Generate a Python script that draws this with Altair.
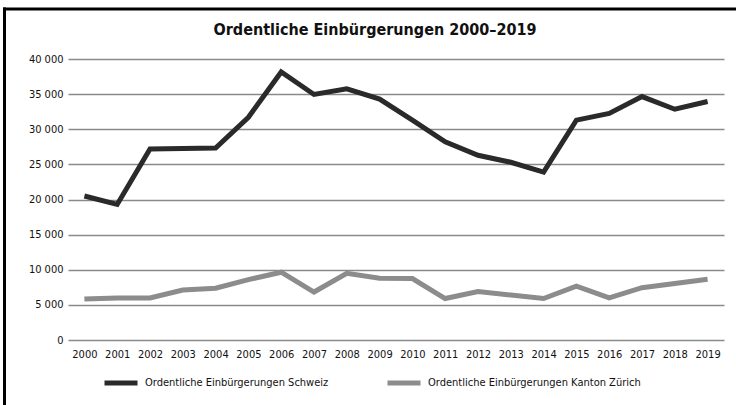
import altair as alt
import pandas as pd

years = [str(y) for y in range(2000, 2020)]
schweiz = [20500, 19300, 27200, 27250, 27330, 31700, 38150, 34950, 35750, 34300,
           31300, 28200, 26300, 25300, 23900, 31300, 32250, 34650, 32850, 33950]
zuerich = [5840, 5980, 5980, 7120, 7380, 8600, 9650, 6830, 9500, 8800,
           8750, 5900, 6900, 6400, 5900, 7650, 6000, 7450, 8050, 8650]
series_names = ["Ordentliche Einbürgerungen Schweiz",
                "Ordentliche Einbürgerungen Kanton Zürich"]
title_text = "Ordentliche Einbürgerungen 2000–2019"
colors = ["#2a2a2a", "#8c8c8c"]
y_ticks = [0, 5000, 10000, 15000, 20000, 25000, 30000, 35000, 40000]

rows = []
for i, yr in enumerate(years):
    rows.append({"Jahr": yr, "Serie": series_names[0], "Wert": schweiz[i]})
    rows.append({"Jahr": yr, "Serie": series_names[1], "Wert": zuerich[i]})
df = pd.DataFrame(rows)
one = pd.DataFrame({"t": [title_text]})

FONT = "Liberation Sans Narrow, DejaVu Sans Condensed, Arial Narrow, sans-serif"

lines = alt.Chart(df).mark_line(strokeWidth=5, strokeJoin="miter", strokeCap="butt").encode(
    x=alt.X("Jahr:O", sort=years, title=None,
            scale=alt.Scale(type="point", padding=0.5),
            axis=alt.Axis(labelAngle=0, domain=False, ticks=False, labelPadding=8,
                          labelFontSize=11, labelColor="#111111", grid=False)),
    y=alt.Y("Wert:Q", title=None,
            scale=alt.Scale(domain=[0, 40000], nice=False),
            axis=alt.Axis(values=y_ticks, domain=False, ticks=False, labelPadding=5,
                          labelFontSize=11, labelColor="#111111",
                          gridColor="#8a8a8a", gridWidth=1.6, gridOpacity=1,
                          labelExpr="replace(format(datum.value, ','), ',', ' ')")),
    color=alt.Color("Serie:N", sort=series_names,
                    scale=alt.Scale(domain=series_names, range=colors),
                    legend=alt.Legend(title=None, orient="none", direction="horizontal",
                                      legendX=34, legendY=305,
                                      symbolType="stroke", symbolStrokeWidth=5,
                                      symbolSize=1089, labelOffset=5,
                                      columnPadding=48, labelFontSize=11,
                                      labelLimit=400,
                                      labelColor="#111111")),
    order=alt.Order("Jahr:O"),
)

title_mark = alt.Chart(one).mark_text(
    font=FONT, fontSize=16, fontWeight="bold", color="#111111",
    align="center", baseline="middle", clip=False,
).encode(x=alt.value(307), y=alt.value(-29), text="t:N")

border_top = alt.Chart(one).mark_rule(color="#000000", strokeWidth=3, clip=False).encode(
    x=alt.value(-65), x2=alt.value(700), y=alt.value(-50))
border_left = alt.Chart(one).mark_rule(color="#000000", strokeWidth=3, clip=False).encode(
    x=alt.value(-63.5), y=alt.value(-51.5), y2=alt.value(400))

chart = alt.layer(lines, title_mark, border_top, border_left).properties(
    width=656, height=281,
    autosize=alt.AutoSizeParams(type="none"),
    padding={"left": 68, "top": 59, "right": 12, "bottom": 65},
    background="white",
).configure_view(stroke=None).configure_axis(labelFont=FONT).configure_legend(labelFont=FONT)

chart.save("out.html", embed_options={"renderer": "svg", "actions": False})
